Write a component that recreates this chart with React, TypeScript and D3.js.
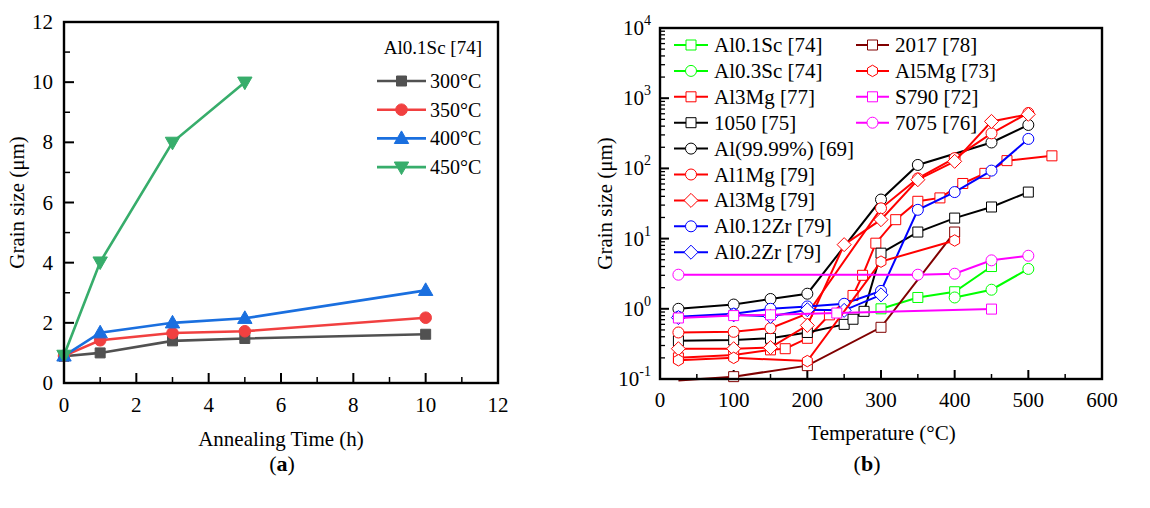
import React from 'react';
import * as d3 from 'd3';

const FONT = "'Liberation Serif', 'Times New Roman', Times, serif";

// ---------- Panel (a) data ----------
const timeHours = [0, 1, 3, 5, 10];
const size300 = [0.89, 1.0, 1.4, 1.48, 1.62];
const size350 = [0.9, 1.42, 1.66, 1.72, 2.17];
const size400 = [0.9, 1.67, 2.0, 2.15, 3.08];
const time450 = [0, 1, 3, 5];
const size450 = [0.92, 4.02, 8.0, 10.0];
const aLegendTitle = 'Al0.1Sc [74]';
const aNames = ['300°C', '350°C', '400°C', '450°C'];
const aXTicks = [0, 2, 4, 6, 8, 10, 12];
const aYTicks = [0, 2, 4, 6, 8, 10, 12];

// ---------- Panel (b) data ----------
const al01ScT = [300, 350, 400, 450];
const al01ScV = [1.0, 1.45, 1.75, 4.0];
const al03ScT = [400, 450, 500];
const al03ScV = [1.45, 1.87, 3.7];
const al3Mg77T = [25, 100, 150, 170, 200, 230, 262, 275, 293, 320, 350, 380, 411, 441, 471, 532];
const al3Mg77V = [0.2, 0.22, 0.26, 0.27, 0.38, 0.82, 1.55, 3.0, 8.6, 18.6, 34, 38, 61, 85, 129, 151];
const a1050T = [25, 100, 150, 200, 250, 262, 277, 300, 350, 400, 450, 500];
const a1050V = [0.35, 0.36, 0.38, 0.46, 0.6, 0.71, 0.92, 6.2, 12.4, 19.6, 28.2, 46];
const al9999T = [25, 100, 150, 200, 300, 350, 450, 500];
const al9999V = [1.0, 1.15, 1.38, 1.64, 36, 112, 234, 416];
const al1MgT = [25, 100, 150, 200, 300, 350, 400, 450, 500];
const al1MgV = [0.46, 0.47, 0.53, 0.85, 27, 72, 140, 316, 616];
const al3Mg79T = [25, 100, 150, 200, 250, 300, 350, 400, 450, 500];
const al3Mg79V = [0.27, 0.27, 0.28, 0.58, 8.2, 18.6, 69, 126, 467, 590];
const al012ZrT = [25, 100, 150, 200, 250, 300, 350, 400, 450, 500];
const al012ZrV = [0.77, 0.85, 1.0, 1.08, 1.18, 1.8, 25.7, 46, 93, 263];
const al02ZrT = [25, 100, 150, 200, 250, 300];
const al02ZrV = [0.75, 0.82, 0.78, 0.97, 0.95, 1.58];
const a2017T = [25, 100, 200, 300, 400];
const a2017V = [0.095, 0.108, 0.155, 0.545, 12.4];
const al5MgT = [25, 100, 200, 300, 400];
const al5MgV = [0.185, 0.2, 0.18, 4.7, 9.4];
const s790T = [25, 100, 150, 240, 450];
const s790V = [0.74, 0.8, 0.82, 0.87, 0.99];
const a7075T = [25, 350, 400, 450, 500];
const a7075V = [3.06, 3.06, 3.16, 4.9, 5.7];

const bNames = [
  'Al0.1Sc [74]', 'Al0.3Sc [74]', 'Al3Mg [77]', '1050 [75]', 'Al(99.99%) [69]',
  'Al1Mg [79]', 'Al3Mg [79]', 'Al0.12Zr [79]', 'Al0.2Zr [79]',
  '2017 [78]', 'Al5Mg [73]', 'S790 [72]', '7075 [76]',
];
const bXTicks = [0, 100, 200, 300, 400, 500, 600];
const bYExponents = [-1, 0, 1, 2, 3, 4];

function markerPath(shape: string, s: number): string {
  switch (shape) {
    case 'square':
      return `M${-s},${-s}h${2 * s}v${2 * s}h${-2 * s}Z`;
    case 'circle':
      return d3.symbol(d3.symbolCircle, Math.PI * s * s)() as string;
    case 'diamond':
      return `M0,${-s * 1.35}L${s * 1.35},0L0,${s * 1.35}L${-s * 1.35},0Z`;
    case 'hexagon': {
      const pts = d3.range(6).map((i) => {
        const a = (Math.PI / 3) * i - Math.PI / 2;
        return [s * 1.1 * Math.cos(a), s * 1.1 * Math.sin(a)];
      });
      return 'M' + pts.map((p) => p.join(',')).join('L') + 'Z';
    }
    case 'triangle':
      return `M0,${-s * 1.25}L${s * 1.2},${s * 0.85}L${-s * 1.2},${s * 0.85}Z`;
    case 'triangleDown':
      return `M0,${s * 1.25}L${s * 1.2},${-s * 0.85}L${-s * 1.2},${-s * 0.85}Z`;
  }
  return '';
}

const T = (props: any) => <text {...props} style={{ fontFamily: FONT }} />;

export default function App() {
  // ---------- Panel (a) ----------
  const xA = d3.scaleLinear().domain([0, 12]).range([64, 498]);
  const yA = d3.scaleLinear().domain([0, 12]).range([383, 22]);
  const aSeries = [
    { name: aNames[0], t: timeHours, v: size300, color: '#515151', shape: 'square', s: 5 },
    { name: aNames[1], t: timeHours, v: size350, color: '#F14040', shape: 'circle', s: 5.8 },
    { name: aNames[2], t: timeHours, v: size400, color: '#1A6FDF', shape: 'triangle', s: 6 },
    { name: aNames[3], t: time450, v: size450, color: '#37AD6B', shape: 'triangleDown', s: 6 },
  ];
  const lineA = d3.line<[number, number]>().x((d) => xA(d[0])).y((d) => yA(d[1]));

  // ---------- Panel (b) ----------
  const xB = d3.scaleLinear().domain([0, 600]).range([660, 1102]);
  const yB = d3.scaleLog().domain([0.1, 1e4]).range([379, 28]);
  const bSeries = [
    { t: al01ScT, v: al01ScV, color: '#00FF00', shape: 'square' },
    { t: al03ScT, v: al03ScV, color: '#00FF00', shape: 'circle' },
    { t: al3Mg77T, v: al3Mg77V, color: '#FF0000', shape: 'square' },
    { t: a1050T, v: a1050V, color: '#000000', shape: 'square' },
    { t: al9999T, v: al9999V, color: '#000000', shape: 'circle' },
    { t: al1MgT, v: al1MgV, color: '#FF0000', shape: 'circle' },
    { t: al3Mg79T, v: al3Mg79V, color: '#FF0000', shape: 'diamond' },
    { t: al012ZrT, v: al012ZrV, color: '#0000FF', shape: 'circle' },
    { t: al02ZrT, v: al02ZrV, color: '#0000FF', shape: 'diamond' },
    { t: a2017T, v: a2017V, color: '#800000', shape: 'square' },
    { t: al5MgT, v: al5MgV, color: '#FF0000', shape: 'hexagon' },
    { t: s790T, v: s790V, color: '#FF00FF', shape: 'square' },
    { t: a7075T, v: a7075V, color: '#FF00FF', shape: 'circle' },
  ].map((s, i) => ({ ...s, name: bNames[i] }));
  const lineB = d3.line<[number, number]>().x((d) => xB(d[0])).y((d) => yB(d[1]));
  const bMarkerSize = (shape: string) => (shape === 'circle' ? 5.5 : shape === 'square' ? 5 : 5.2);

  const aMinorX = d3.range(1, 12, 2);
  const aMinorY = d3.range(1, 12, 2);
  const bMinorX = d3.range(50, 600, 100);
  const bMinorY: number[] = [];
  for (let e = -1; e < 4; e++) for (let m = 2; m <= 9; m++) bMinorY.push(m * Math.pow(10, e));

  const [xa0, xa1] = xA.range();
  const [ya0, ya1] = yA.range();
  const [xb0, xb1] = xB.range();
  const [yb0, yb1] = yB.range();

  return (
    <svg
      width={1150}
      height={508}
      style={{ position: 'absolute', left: 0, top: 0, background: '#fff', fontFamily: FONT }}
    >
      <rect x={0} y={0} width={1150} height={508} fill="#fff" />

      {/* ===== Panel (a) ===== */}
      <g>
        {aXTicks.map((t) => (
          <g key={'ax' + t}>
            <line x1={xA(t)} x2={xA(t)} y1={ya0} y2={ya0 - 10} stroke="#000" strokeWidth={2} />
            <T x={xA(t)} y={ya0 + 29} fontSize={21} textAnchor="middle">{t}</T>
          </g>
        ))}
        {aMinorX.map((t) => (
          <line key={'amx' + t} x1={xA(t)} x2={xA(t)} y1={ya0} y2={ya0 - 6} stroke="#000" strokeWidth={1.5} />
        ))}
        {aYTicks.map((t) => (
          <g key={'ay' + t}>
            <line x1={xa0} x2={xa0 + 10} y1={yA(t)} y2={yA(t)} stroke="#000" strokeWidth={2} />
            <T x={xa0 - 11} y={yA(t) + 7} fontSize={21} textAnchor="end">{t}</T>
          </g>
        ))}
        {aMinorY.map((t) => (
          <line key={'amy' + t} x1={xa0} x2={xa0 + 6} y1={yA(t)} y2={yA(t)} stroke="#000" strokeWidth={1.5} />
        ))}
        {aSeries.map((s) => (
          <g key={s.name}>
            <path
              d={lineA(s.t.map((t, i) => [t, s.v[i]] as [number, number])) as string}
              fill="none"
              stroke={s.color}
              strokeWidth={2.6}
            />
            {s.t.map((t, i) => (
              <path
                key={i}
                d={markerPath(s.shape, s.s)}
                transform={`translate(${xA(t)},${yA(s.v[i])})`}
                fill={s.color}
                stroke={s.color}
                strokeWidth={1}
              />
            ))}
          </g>
        ))}
        <rect x={xa0} y={ya1} width={xa1 - xa0} height={ya0 - ya1} fill="none" stroke="#000" strokeWidth={2.4} />
        {/* legend */}
        <T x={482} y={54} fontSize={19} textAnchor="end">{aLegendTitle}</T>
        {aSeries.map((s, i) => {
          const ly = 81 + i * 28.7;
          return (
            <g key={'al' + s.name}>
              <line x1={377} x2={426} y1={ly} y2={ly} stroke={s.color} strokeWidth={2.6} />
              <path d={markerPath(s.shape, s.s)} transform={`translate(401.5,${ly})`} fill={s.color} stroke={s.color} />
              <T x={430} y={ly + 7} fontSize={20}>{s.name}</T>
            </g>
          );
        })}
        <T x={281} y={446} fontSize={21} textAnchor="middle">Annealing Time (h)</T>
        <T transform={`translate(24,${(ya0 + ya1) / 2}) rotate(-90)`} fontSize={21} textAnchor="middle">
          Grain size (μm)
        </T>
        <T x={282} y={471} fontSize={22} textAnchor="middle">
          (<tspan fontWeight="bold">a</tspan>)
        </T>
      </g>

      {/* ===== Panel (b) ===== */}
      <g>
        {bXTicks.map((t) => (
          <g key={'bx' + t}>
            <line x1={xB(t)} x2={xB(t)} y1={yb0} y2={yb0 - 9} stroke="#000" strokeWidth={2} />
            <T x={xB(t)} y={yb0 + 28} fontSize={21} textAnchor="middle">{t}</T>
          </g>
        ))}
        {bMinorX.map((t) => (
          <line key={'bmx' + t} x1={xB(t)} x2={xB(t)} y1={yb0} y2={yb0 - 5} stroke="#000" strokeWidth={1.5} />
        ))}
        {bYExponents.map((e) => {
          const v = Math.pow(10, e);
          return (
            <g key={'by' + e}>
              <line x1={xb0} x2={xb0 + 9} y1={yB(v)} y2={yB(v)} stroke="#000" strokeWidth={2} />
              <T x={xb0 - 9} y={yB(v) + 7} fontSize={21} textAnchor="end">
                10<tspan fontSize={14} dy={-10}>{e}</tspan>
              </T>
            </g>
          );
        })}
        {bMinorY.map((v, i) => (
          <line key={'bmy' + i} x1={xb0} x2={xb0 + 5} y1={yB(v)} y2={yB(v)} stroke="#000" strokeWidth={1.3} />
        ))}
        {bSeries.map((s) => (
          <g key={s.name}>
            <path
              d={lineB(s.t.map((t, i) => [t, s.v[i]] as [number, number])) as string}
              fill="none"
              stroke={s.color}
              strokeWidth={2}
            />
            {s.t.map((t, i) =>
              s.v[i] >= 0.1 ? (
                <path
                  key={i}
                  d={markerPath(s.shape, bMarkerSize(s.shape))}
                  transform={`translate(${xB(t)},${yB(s.v[i])})`}
                  fill="#fff"
                  stroke={s.color}
                  strokeWidth={1}
                />
              ) : null
            )}
          </g>
        ))}
        <rect x={xb0} y={yb1} width={xb1 - xb0} height={yb0 - yb1} fill="none" stroke="#000" strokeWidth={2.4} />
        {/* legend */}
        {bSeries.map((s, i) => {
          const col = i < 9 ? 0 : 1;
          const row = i < 9 ? i : i - 9;
          const ly = 45 + row * 25.9;
          const lx0 = col === 0 ? 674 : 856;
          const lx1 = col === 0 ? 708 : 889;
          const tx = col === 0 ? 714 : 895;
          return (
            <g key={'bl' + s.name}>
              <line x1={lx0} x2={lx1} y1={ly} y2={ly} stroke={s.color} strokeWidth={2} />
              <path
                d={markerPath(s.shape, bMarkerSize(s.shape))}
                transform={`translate(${(lx0 + lx1) / 2},${ly})`}
                fill="#fff"
                stroke={s.color}
                strokeWidth={1}
              />
              <T x={tx} y={ly + 7} fontSize={21}>{s.name}</T>
            </g>
          );
        })}
        <T x={882} y={440} fontSize={21} textAnchor="middle">Temperature (°C)</T>
        <T transform={`translate(612,${(yb0 + yb1) / 2}) rotate(-90)`} fontSize={21} textAnchor="middle">
          Grain size (μm)
        </T>
        <T x={867} y={471} fontSize={22} textAnchor="middle">
          (<tspan fontWeight="bold">b</tspan>)
        </T>
      </g>
    </svg>
  );
}
